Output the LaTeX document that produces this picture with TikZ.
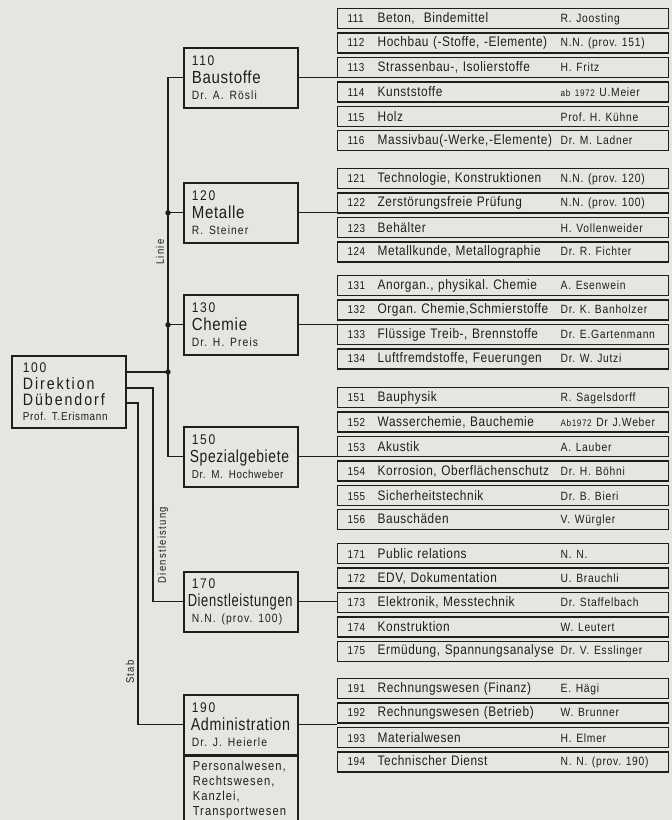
\documentclass[tikz,border=0pt]{standalone}
\usepackage{fontspec}
\setmainfont{Liberation Sans}[FakeStretch=0.86,LetterSpace=4]
\usepackage{tikz}
\usetikzlibrary{positioning}

\definecolor{paper}{RGB}{229,229,226}
\definecolor{ink}{RGB}{30,30,30}

% one line of a section table: number, subject, head
\newcommand{\cols}[3]{\makebox[30pt][l]{\fontsize{11.5}{13}\selectfont #1}\makebox[183pt][l]{#2}\makebox[0pt][l]{\fontsize{12}{14}\selectfont\addfontfeature{LetterSpace=6}#3}}
% number and head lines of a department box
\newcommand{\num}[1]{{\fontsize{14}{15}\selectfont\addfontfeature{LetterSpace=12}#1}}
\newcommand{\head}[1]{\mbox{\fontsize{12}{13}\selectfont\addfontfeature{LetterSpace=9}#1}}

\begin{document}
\frenchspacing
\begin{tikzpicture}[x=1pt, y=-1pt,
  dept/.style={draw=ink, line width=1.6pt, fill=paper, text=ink, anchor=north west, align=left,
    text width=98pt, inner xsep=8pt, minimum height=60pt, font=\fontsize{17.5}{18}\selectfont},
  row/.style={draw=ink, line width=1.4pt, fill=paper, text=ink, align=left,
    text width=311pt, inner xsep=10pt, inner ysep=0pt, minimum height=20pt, font=\fontsize{13.8}{16}\selectfont},
  link/.style={draw=ink, line width=1.2pt},
  lbl/.style={text=ink, rotate=90, inner sep=0pt, font=\fontsize{11}{12}\selectfont\addfontfeature{LetterSpace=12}}]

\useasboundingbox (0,0) rectangle (672,820);
\clip (0,0) rectangle (672,820);
\fill[paper] (0,0) rectangle (672,820);

% Direktion and the departments
\node[dept, text width=92pt, inner xsep=11pt, minimum height=72pt,
  font=\fontsize{16.5}{16.5}\selectfont\addfontfeature{LetterSpace=12}] (b100) at (11,355)
  {\num{100}\\Direktion\\Dübendorf\\[-2pt]{\fontsize{11.5}{12}\selectfont\addfontfeature{LetterSpace=6}Prof. T.Erismann}};
\node[dept] (b110) at (183,47) {\num{110}\\Baustoffe\\[-2pt]\head{Dr. A. Rösli}};
\node[dept] (b120) at (183,182) {\num{120}\\Metalle\\[-2pt]\head{R. Steiner}};
\node[dept] (b130) at (183,294) {\num{130}\\Chemie\\[-2pt]\head{Dr. H. Preis}};
\node[dept] (b150) at (183,426) {\num{150}\\\hspace*{-2pt}\scalebox{0.92}[1]{Spezialgebiete}\\[-2pt]
  \mbox{\fontsize{11.5}{13}\selectfont\addfontfeature{LetterSpace=5}Dr. M. Hochweber}};
\node[dept] (b170) at (183,571) {\num{170}\\\hspace*{-4pt}\scalebox{0.86}[1]{Dienstleistungen}\\[-2pt]\head{N.N. (prov. 100)}};
\node[dept] (b190) at (183,694) {\num{190}\\\hspace*{-1pt}\scalebox{0.95}[1]{Administration}\\[-2pt]\head{Dr. J. Heierle}};
\node[dept, below=0pt of b190, text width=96pt, inner xsep=9pt, minimum height=66pt,
  font=\fontsize{13}{15}\selectfont\addfontfeature{LetterSpace=8}] (b190s)
  {Personalwesen,\\Rechtswesen,\\Kanzlei,\\Transportwesen};

% Sections 110
\node[row, anchor=north west] (r111) at (337,8) {\cols{111}{Beton,\ \ Bindemittel}{R. Joosting}};
\node[row, below=3pt of r111] (r112) {\cols{112}{Hochbau (-Stoffe, -Elemente)}{N.N. (prov. 151)}};
\node[row, below=3pt of r112] (r113) {\cols{113}{Strassenbau-, Isolierstoffe}{H. Fritz}};
\node[row, below=3pt of r113] (r114) {\cols{114}{Kunststoffe}{{\fontsize{9.5}{11}\selectfont ab 1972} U.Meier}};
\node[row, below=3pt of r114] (r115) {\cols{115}{Holz}{Prof. H. Kühne}};
\node[row, below=3pt of r115] (r116) {\cols{116}{Massivbau(-Werke,-Elemente)}{Dr. M. Ladner}};

% Sections 120
\node[row, anchor=north west] (r121) at (337,168) {\cols{121}{Technologie, Konstruktionen}{N.N. (prov. 120)}};
\node[row, below=3pt of r121] (r122) {\cols{122}{Zerstörungsfreie Prüfung}{N.N. (prov. 100)}};
\node[row, below=3pt of r122] (r123) {\cols{123}{Behälter}{H. Vollenweider}};
\node[row, below=3pt of r123] (r124) {\cols{124}{Metallkunde, Metallographie}{Dr. R. Fichter}};

% Sections 130
\node[row, anchor=north west] (r131) at (337,275) {\cols{131}{Anorgan., physikal. Chemie}{A. Esenwein}};
\node[row, below=3pt of r131] (r132) {\cols{132}{Organ. Chemie,Schmierstoffe}{Dr. K. Banholzer}};
\node[row, below=3pt of r132] (r133) {\cols{133}{Flüssige Treib-, Brennstoffe}{Dr. E.Gartenmann}};
\node[row, below=3pt of r133] (r134) {\cols{134}{Luftfremdstoffe, Feuerungen}{Dr. W. Jutzi}};

% Sections 150
\node[row, anchor=north west] (r151) at (337,387) {\cols{151}{Bauphysik}{R. Sagelsdorff}};
\node[row, below=3pt of r151] (r152) {\cols{152}{Wasserchemie, Bauchemie}{{\fontsize{9.5}{11}\selectfont Ab1972} Dr J.Weber}};
\node[row, below=3pt of r152] (r153) {\cols{153}{Akustik}{A. Lauber}};
\node[row, below=3pt of r153] (r154) {\cols{154}{Korrosion, Oberflächenschutz}{Dr. H. Böhni}};
\node[row, below=3pt of r154] (r155) {\cols{155}{Sicherheitstechnik}{Dr. B. Bieri}};
\node[row, below=3pt of r155] (r156) {\cols{156}{Bauschäden}{V. Würgler}};

% Sections 170
\node[row, anchor=north west] (r171) at (337,543) {\cols{171}{Public relations}{N. N.}};
\node[row, below=3pt of r171] (r172) {\cols{172}{EDV, Dokumentation}{U. Brauchli}};
\node[row, below=3pt of r172] (r173) {\cols{173}{Elektronik, Messtechnik}{Dr. Staffelbach}};
\node[row, below=3pt of r173] (r174) {\cols{174}{Konstruktion}{W. Leutert}};
\node[row, below=3pt of r174] (r175) {\cols{175}{Ermüdung, Spannungsanalyse}{Dr. V. Esslinger}};

% Sections 190
\node[row, anchor=north west] (r191) at (337,678) {\cols{191}{Rechnungswesen (Finanz)}{E. Hägi}};
\node[row, below=3pt of r191] (r192) {\cols{192}{Rechnungswesen (Betrieb)}{W. Brunner}};
\node[row, below=3pt of r192] (r193) {\cols{193}{Materialwesen}{H. Elmer}};
\node[row, below=3pt of r193] (r194) {\cols{194}{Technischer Dienst}{N. N. (prov. 190)}};

% Junctions of the three lines out of the Direktion
\coordinate (jl) at (168,372);
\coordinate (jd) at (153,388);
\coordinate (js) at (138,403);

% Linie
\draw[link] (b100.east |- jl) -- (jl);
\draw[link] (b110.west) -| (jl) |- (b150.west);
\draw[link] (b120.west) -- (b120.west -| jl);
\draw[link] (b130.west) -- (b130.west -| jl);
\fill[ink] (jl) circle (2.7pt);
\fill[ink] (b120.west -| jl) circle (2.7pt);
\fill[ink] (b130.west -| jl) circle (2.7pt);

% Dienstleistung and Stab
\draw[link] (b100.east |- jd) -- (jd) |- (b170.west);
\draw[link] (b100.east |- js) -- (js) |- (b190.west);

% Departments to their sections
\draw[link] (b110.east) -- (b110.east -| r114.west);
\draw[link] (b120.east) -- (b120.east -| r122.west);
\draw[link] (b130.east) -- (b130.east -| r133.west);
\draw[link] (b150.east) -- (b150.east -| r154.west);
\draw[link] (b170.east) -- (b170.east -| r173.west);
\draw[link] (b190.east) -- (b190.east -| r193.west);

\node[lbl] (linie) at (160,252) {Linie};
\node[lbl] (dienst) at (163,545) {Dienstleistung};
\node[lbl] (stab) at (130,672) {Stab};

\end{tikzpicture}
\end{document}
